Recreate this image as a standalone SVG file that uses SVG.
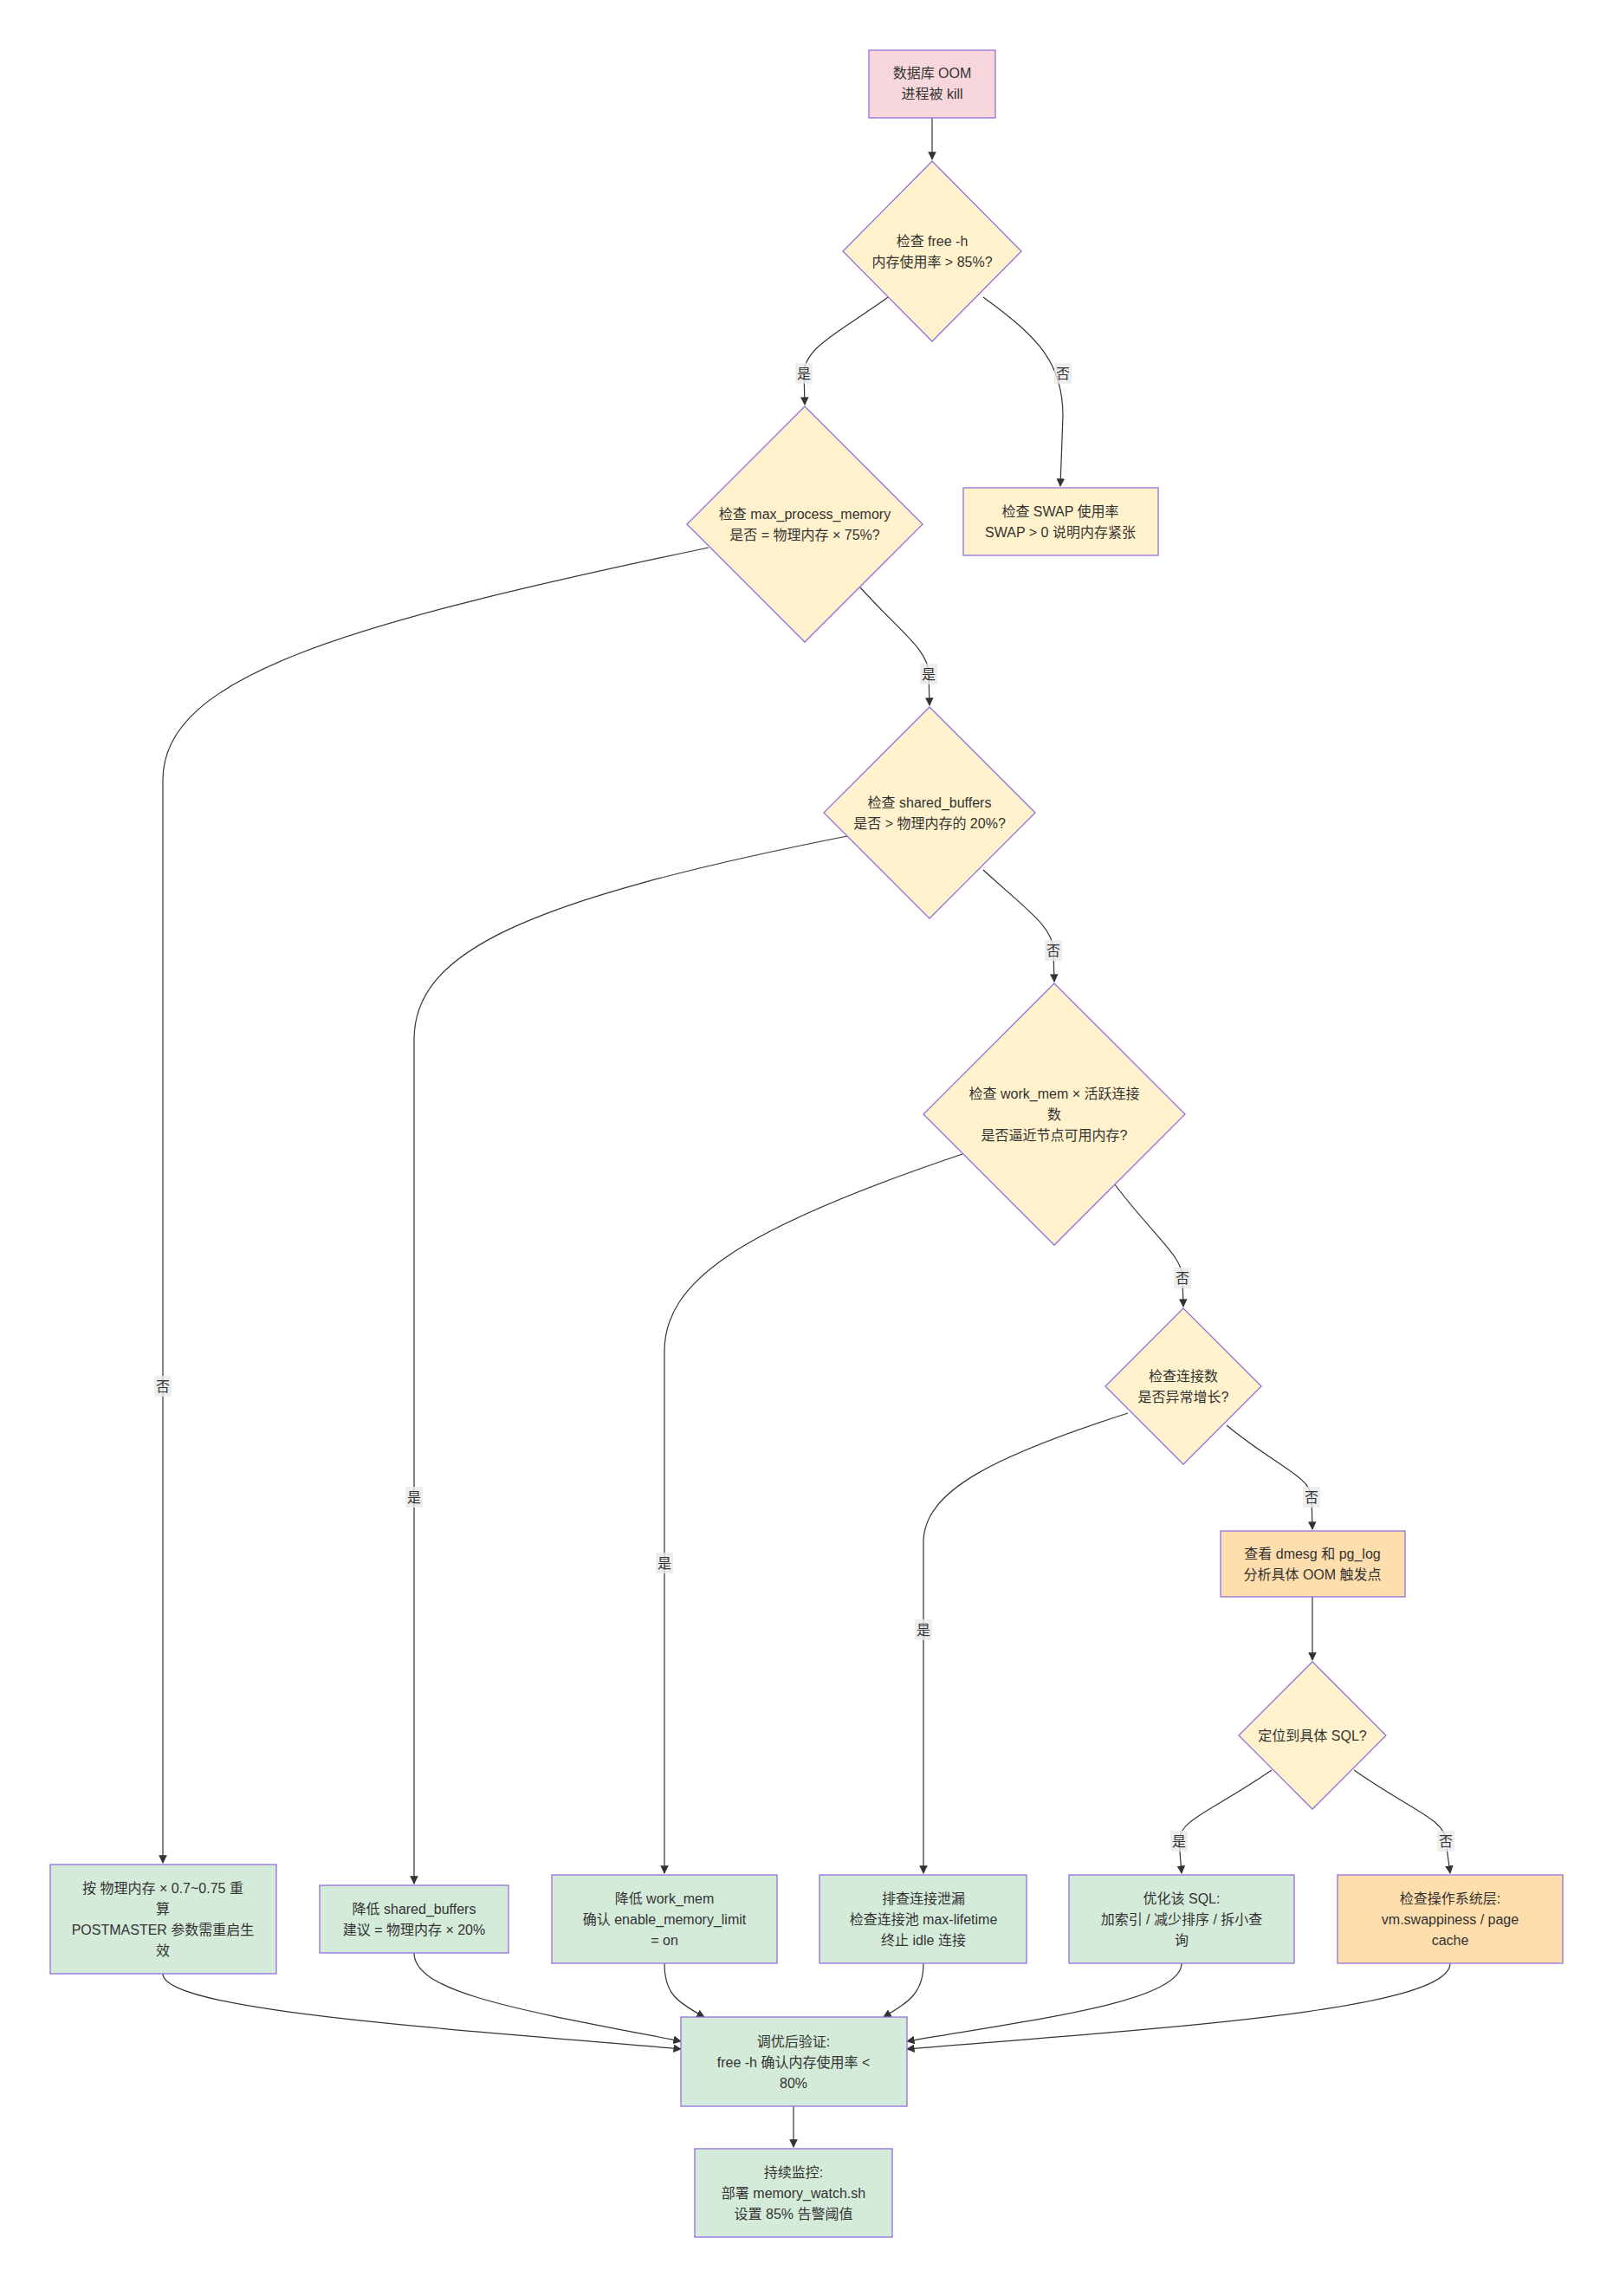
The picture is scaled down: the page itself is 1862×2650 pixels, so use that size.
<svg xmlns="http://www.w3.org/2000/svg" width="1862" height="2650" viewBox="0 0 1862 2650">
<style>
text{font-family:"Liberation Sans","Noto Sans CJK SC",sans-serif;font-size:16px;fill:#333;text-anchor:middle}
.n{stroke:#9370DB;stroke-width:1.3}
.pink{fill:#f8d7dc}.yel{fill:#fff2cc}.grn{fill:#d5ebda}.org{fill:#ffdead}
.e{fill:none;stroke:#333;stroke-width:1.2;marker-end:url(#ah)}
.lb{fill:#e8e8e8;opacity:0.8}
</style>
<defs><marker id="ah" viewBox="0 0 10 10" refX="9" refY="5" markerWidth="8" markerHeight="8" orient="auto-start-reverse"><path d="M0,0L10,5L0,10z" fill="#333"/></marker></defs>
<rect width="1862" height="2650" fill="#fff"/>
<g id="connectors">
<path class="e" d="M1076,136L1076,184"/>
<path class="e" d="M1025,343C975,380 928,400 928,431L929,467"/>
<path class="e" d="M1135,343C1200,390 1227,420 1227,480L1224,561"/>
<path class="e" d="M818,632C400,720 188,780 188,900L188,2150"/>
<path class="e" d="M993,678C1040,730 1072,750 1072,778L1073,814"/>
<path class="e" d="M978,965C600,1040 478,1100 478,1200L478,2174"/>
<path class="e" d="M1135,1004C1185,1050 1216,1070 1216,1097L1217,1133"/>
<path class="e" d="M1111,1332C850,1420 767,1480 767,1560L767,2162"/>
<path class="e" d="M1286,1366C1335,1430 1365,1450 1365,1475L1366,1508"/>
<path class="e" d="M1302,1631C1150,1680 1066,1720 1066,1780L1066,2162"/>
<path class="e" d="M1416,1645C1470,1690 1514,1705 1514,1728L1515,1765"/>
<path class="e" d="M1515,1843L1515,1916"/>
<path class="e" d="M1468,2043C1400,2090 1361,2100 1361,2125L1364,2162"/>
<path class="e" d="M1563,2043C1630,2090 1669,2100 1669,2125L1674,2162"/>
<path class="e" d="M188,2278C188,2320 500,2340 786,2365"/>
<path class="e" d="M478,2254C478,2300 600,2320 786,2356"/>
<path class="e" d="M767,2266C767,2300 780,2310 813,2328"/>
<path class="e" d="M1066,2266C1066,2300 1050,2310 1020,2328"/>
<path class="e" d="M1364,2266C1364,2310 1200,2330 1047,2356"/>
<path class="e" d="M1674,2266C1674,2320 1350,2340 1047,2365"/>
<path class="e" d="M916,2431L916,2478"/>
<g id="edge-labels">
<rect class="lb" x="918" y="419" width="20" height="24"/><text x="928" y="437">是</text>
<rect class="lb" x="1217" y="419" width="20" height="24"/><text x="1227" y="437">否</text>
<rect class="lb" x="1062" y="766" width="20" height="24"/><text x="1072" y="784">是</text>
<rect class="lb" x="1206" y="1085" width="20" height="24"/><text x="1216" y="1103">否</text>
<rect class="lb" x="1355" y="1463" width="20" height="24"/><text x="1365" y="1481">否</text>
<rect class="lb" x="1504" y="1716" width="20" height="24"/><text x="1514" y="1734">否</text>
<rect class="lb" x="178" y="1588" width="20" height="24"/><text x="188" y="1606">否</text>
<rect class="lb" x="468" y="1716" width="20" height="24"/><text x="478" y="1734">是</text>
<rect class="lb" x="757" y="1792" width="20" height="24"/><text x="767" y="1810">是</text>
<rect class="lb" x="1056" y="1869" width="20" height="24"/><text x="1066" y="1887">是</text>
<rect class="lb" x="1351" y="2113" width="20" height="24"/><text x="1361" y="2131">是</text>
<rect class="lb" x="1659" y="2113" width="20" height="24"/><text x="1669" y="2131">否</text>
</g>
</g>
<g id="start"><rect class="n pink" x="1003" y="58" width="146" height="78"/><text x="1076" y="90">数据库 OOM</text><text x="1076" y="114">进程被 kill</text></g>
<g id="d1"><polygon class="n yel" points="1076,186 1179,290 1076,394 973,290"/><text x="1076" y="284">检查 free -h</text><text x="1076" y="308">内存使用率 &gt; 85%?</text></g>
<g id="swap"><rect class="n yel" x="1112" y="563" width="225" height="78"/><text x="1224" y="596">检查 SWAP 使用率</text><text x="1224" y="620">SWAP &gt; 0 说明内存紧张</text></g>
<g id="d2"><polygon class="n yel" points="929,469 1065,605 929,741 793,605"/><text x="929" y="599">检查 max_process_memory</text><text x="929" y="623">是否 = 物理内存 × 75%?</text></g>
<g id="d3"><polygon class="n yel" points="1073,816 1195,938 1073,1060 951,938"/><text x="1073" y="932">检查 shared_buffers</text><text x="1073" y="956">是否 &gt; 物理内存的 20%?</text></g>
<g id="d4"><polygon class="n yel" points="1217,1135 1368,1286 1217,1437 1066,1286"/><text x="1217" y="1268">检查 work_mem × 活跃连接</text><text x="1217" y="1292">数</text><text x="1217" y="1316">是否逼近节点可用内存?</text></g>
<g id="d5"><polygon class="n yel" points="1366,1510 1456,1600 1366,1690 1276,1600"/><text x="1366" y="1594">检查连接数</text><text x="1366" y="1618">是否异常增长?</text></g>
<g id="dmesg"><rect class="n org" x="1409" y="1767" width="213" height="76"/><text x="1515" y="1799">查看 dmesg 和 pg_log</text><text x="1515" y="1823">分析具体 OOM 触发点</text></g>
<g id="d6"><polygon class="n yel" points="1515,1918 1600,2003 1515,2088 1430,2003"/><text x="1515" y="2009">定位到具体 SQL?</text></g>
<g id="a"><rect class="n grn" x="58" y="2152" width="261" height="126"/><text x="188" y="2185">按 物理内存 × 0.7~0.75 重</text><text x="188" y="2209">算</text><text x="188" y="2233">POSTMASTER 参数需重启生</text><text x="188" y="2257">效</text></g>
<g id="b"><rect class="n grn" x="369" y="2176" width="218" height="78"/><text x="478" y="2209">降低 shared_buffers</text><text x="478" y="2233">建议 = 物理内存 × 20%</text></g>
<g id="c"><rect class="n grn" x="637" y="2164" width="260" height="102"/><text x="767" y="2197">降低 work_mem</text><text x="767" y="2221">确认 enable_memory_limit</text><text x="767" y="2245">= on</text></g>
<g id="dd"><rect class="n grn" x="946" y="2164" width="239" height="102"/><text x="1066" y="2197">排查连接泄漏</text><text x="1066" y="2221">检查连接池 max-lifetime</text><text x="1066" y="2245">终止 idle 连接</text></g>
<g id="e"><rect class="n grn" x="1234" y="2164" width="260" height="102"/><text x="1364" y="2197">优化该 SQL:</text><text x="1364" y="2221">加索引 / 减少排序 / 拆小查</text><text x="1364" y="2245">询</text></g>
<g id="f"><rect class="n org" x="1544" y="2164" width="260" height="102"/><text x="1674" y="2197">检查操作系统层:</text><text x="1674" y="2221">vm.swappiness / page</text><text x="1674" y="2245">cache</text></g>
<g id="verify"><rect class="n grn" x="786" y="2328" width="261" height="103"/><text x="916" y="2362">调优后验证:</text><text x="916" y="2386">free -h 确认内存使用率 &lt;</text><text x="916" y="2410">80%</text></g>
<g id="monitor"><rect class="n grn" x="802" y="2480" width="228" height="102"/><text x="916" y="2513">持续监控:</text><text x="916" y="2537">部署 memory_watch.sh</text><text x="916" y="2561">设置 85% 告警阈值</text></g>
</svg>
